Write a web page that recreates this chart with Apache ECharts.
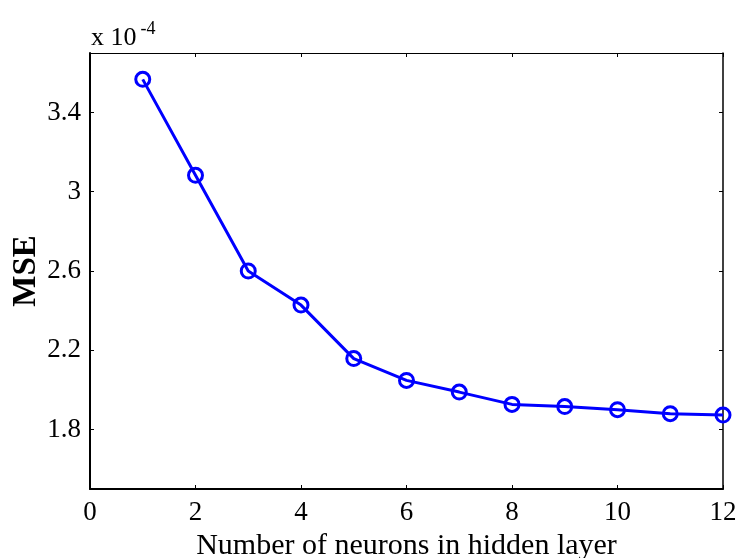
<!DOCTYPE html>
<html>
<head>
<meta charset="utf-8">
<script src="https://cdn.jsdelivr.net/npm/echarts@6/dist/echarts.min.js"></script>
<style>
  html, body { margin: 0; padding: 0; background: #fff; }
  #chart { width: 736px; height: 558px; }
</style>
</head>
<body>
<div id="chart"></div>
<script>
const neurons = [1, 2, 3, 4, 5, 6, 7, 8, 9, 10, 11, 12];
const mse = [3.567, 3.083, 2.600, 2.428, 2.158, 2.048, 1.989, 1.927, 1.916, 1.900, 1.880, 1.873];
const yTicks = [1.8, 2.2, 2.6, 3.0, 3.4];

const font = "Liberation Serif, Times New Roman, serif";
const black = "#000";
const blue = "#0000ff";

const chart = echarts.init(document.getElementById("chart"));

const tickStyle = { show: true, inside: true, length: 4, lineStyle: { color: black, width: 1 } };

chart.setOption({
  animation: false,
  backgroundColor: "#fff",
  textStyle: { fontFamily: font, color: black },
  grid: { left: 90, right: 13, top: 53, bottom: 69, containLabel: false, outerBoundsMode: "none" },
  title: {
    text: "x 10{sup|-4}",
    left: 86,
    top: 15,
    textStyle: {
      fontFamily: font,
      fontSize: 26,
      fontWeight: "normal",
      color: black,
      rich: { sup: { fontFamily: font, fontSize: 18, verticalAlign: "top", padding: [0, 0, 18, 4], color: black } }
    }
  },
  xAxis: [{
    type: "value",
    min: 0,
    max: 12,
    interval: 2,
    name: "Number of neurons in hidden layer",
    nameLocation: "middle",
    nameGap: 38,
    nameTextStyle: { fontFamily: font, fontSize: 30, color: black },
    axisLine: { show: true, onZero: false, lineStyle: { color: black, width: 2 } },
    axisTick: tickStyle,
    axisLabel: { fontFamily: font, fontSize: 27, color: black, margin: 10 },
    splitLine: { show: false }
  }, {
    type: "value",
    position: "top",
    min: 0,
    max: 12,
    interval: 2,
    axisLine: { show: true, onZero: false, lineStyle: { color: black, width: 1 } },
    axisTick: tickStyle,
    axisLabel: { show: false },
    splitLine: { show: false }
  }],
  yAxis: [{
    type: "value",
    min: 1.5,
    max: 3.7,
    name: "MSE",
    nameLocation: "middle",
    nameGap: 47,
    nameMoveOverlap: false,
    nameTextStyle: { fontFamily: font, fontSize: 33, fontWeight: "bold", color: black },
    axisLine: { show: true, onZero: false, lineStyle: { color: black, width: 2 } },
    axisTick: Object.assign({}, tickStyle, { customValues: yTicks }),
    axisLabel: {
      customValues: yTicks,
      fontFamily: font,
      fontSize: 27,
      color: black,
      margin: 9,
      formatter: (v) => String(Math.round(v * 10) / 10)
    },
    splitLine: { show: false }
  }, {
    type: "value",
    position: "right",
    min: 1.5,
    max: 3.7,
    axisLine: { show: true, onZero: false, lineStyle: { color: black, width: 1.5 } },
    axisTick: Object.assign({}, tickStyle, { customValues: yTicks }),
    axisLabel: { show: false, customValues: yTicks },
    splitLine: { show: false }
  }],
  series: [{
    type: "line",
    data: neurons.map((n, i) => [n, mse[i]]),
    symbol: "circle",
    symbolSize: 14,
    clip: false,
    lineStyle: { color: blue, width: 3 },
    itemStyle: { color: "rgba(0,0,0,0)", borderColor: blue, borderWidth: 3 }
  }]
});
</script>
</body>
</html>
